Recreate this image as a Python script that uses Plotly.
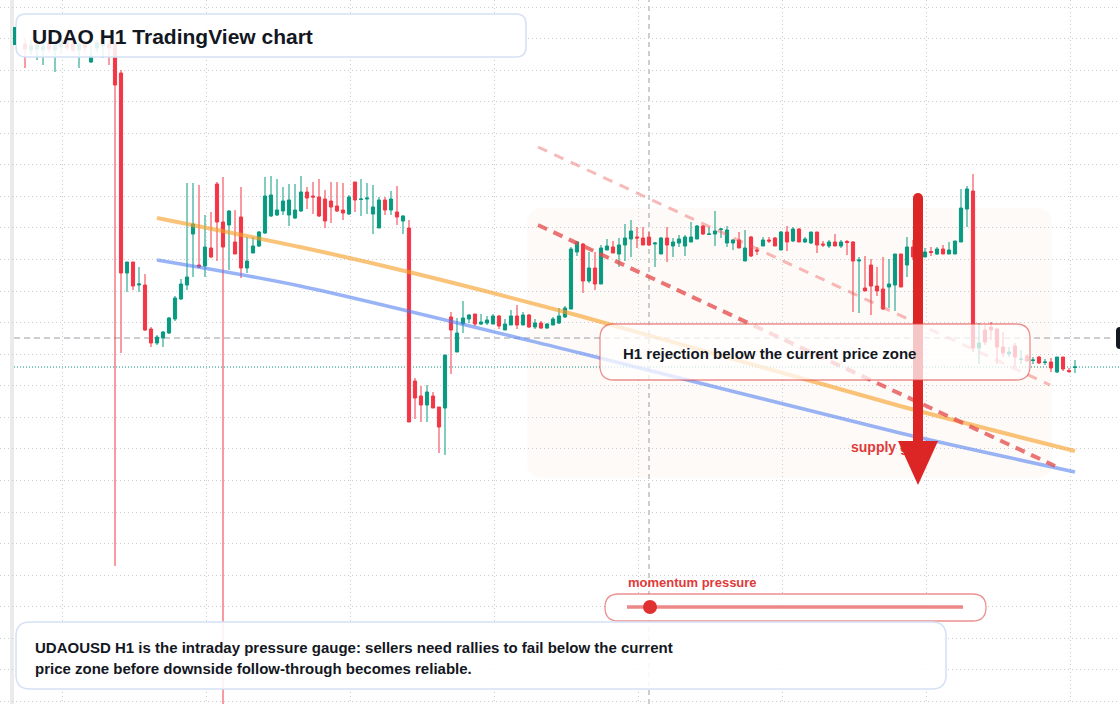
import plotly.graph_objects as go

W, H = 1120, 704

# ---------------- data (hourly candles, price units) ----------------
opens = [6.60, 6.54, 6.55, 6.54, 6.60, 6.54, 6.57, 6.62, 6.60, 6.54, 6.60, 6.42, 6.56, 6.58, 6.60,
         6.60, 6.31, 4.31, 4.42, 4.19, 4.19, 3.75, 3.61, 3.66, 3.71, 3.85, 4.05, 4.19, 4.70, 4.39,
         4.38, 4.56, 5.20, 4.82, 4.79, 4.62, 4.87, 4.36, 4.51, 4.58, 4.71, 4.88, 4.89, 4.93, 4.89,
         4.86, 4.93, 5.12, 5.08, 5.07, 5.05, 5.03, 4.98, 4.94, 4.90, 5.22, 5.045, 5.05, 4.90, 4.76,
         5.04, 4.94, 4.92, 4.83, 4.76, 3.23, 3.08, 2.99, 3.08, 2.97, 2.96, 3.87, 3.52, 3.80, 3.85,
         3.90, 3.80, 3.81, 3.80, 3.88, 3.74, 3.79, 3.88, 3.79, 3.89, 3.77, 3.81, 3.76, 3.79, 3.81,
         3.87, 3.95, 4.52, 4.60, 4.23, 4.36, 4.20, 4.54, 4.57, 4.50, 4.59, 4.65, 4.67, 4.66, 4.67,
         4.60, 4.50, 4.66, 4.58, 4.61, 4.58, 4.62, 4.65, 4.78, 4.695, 4.70, 4.745, 4.61, 4.61, 4.64,
         4.43, 4.67, 4.54, 4.58, 4.64, 4.66, 4.54, 4.72, 4.63, 4.75, 4.62, 4.61, 4.72, 4.60, 4.58,
         4.62, 4.58, 4.625, 4.62, 4.43, 4.16, 4.39, 4.18, 4.15, 4.17, 4.19, 4.50, 4.39, 4.57, 4.52,
         4.47, 4.525, 4.50, 4.55, 4.50, 4.50, 4.62, 4.95, 5.13, 3.56, 3.74, 3.77, 3.75, 3.57, 3.50,
         3.58, 3.445, 3.48, 3.435, 3.47, 3.415, 3.42, 3.32, 3.47, 3.335, 3.365]
highs = [6.66, 6.64, 6.63, 6.62, 6.65, 6.64, 6.66, 6.68, 6.66, 6.64, 6.64, 6.58, 6.64, 6.66, 6.64,
         6.64, 6.34, 4.42, 4.42, 4.37, 4.30, 3.77, 3.69, 3.73, 3.87, 4.08, 4.25, 5.21, 5.21, 5.19,
         4.89, 4.92, 5.22, 5.27, 4.94, 4.94, 5.17, 4.67, 4.67, 4.73, 5.27, 5.28, 5.25, 5.17, 5.20,
         5.20, 5.28, 5.17, 5.22, 5.25, 5.14, 5.22, 5.22, 5.21, 5.09, 5.22, 5.25, 5.21, 5.19, 5.07,
         5.07, 5.13, 5.18, 4.89, 4.84, 3.26, 3.18, 3.19, 3.12, 2.97, 3.49, 3.92, 3.86, 4.03, 3.90,
         3.90, 3.90, 3.88, 3.90, 3.89, 3.85, 3.94, 3.99, 3.92, 3.90, 3.85, 3.83, 3.81, 3.87, 3.96,
         3.98, 4.57, 4.63, 4.61, 4.52, 4.52, 4.59, 4.65, 4.63, 4.66, 4.80, 4.84, 4.77, 4.77, 4.72,
         4.62, 4.67, 4.77, 4.66, 4.69, 4.69, 4.82, 4.79, 4.79, 4.77, 4.93, 4.76, 4.78, 4.65, 4.72,
         4.74, 4.68, 4.57, 4.67, 4.67, 4.67, 4.73, 4.78, 4.77, 4.76, 4.67, 4.72, 4.72, 4.63, 4.64,
         4.70, 4.64, 4.64, 4.63, 4.47, 4.48, 4.45, 4.37, 4.47, 4.45, 4.50, 4.50, 4.67, 4.64, 4.58,
         4.56, 4.57, 4.57, 4.59, 4.62, 4.63, 5.15, 5.18, 5.30, 3.81, 3.79, 3.82, 3.75, 3.72, 3.57,
         3.61, 3.54, 3.50, 3.47, 3.48, 3.45, 3.46, 3.47, 3.47, 3.36, 3.44]
lows = [6.36, 6.49, 6.44, 6.39, 6.52, 6.32, 6.50, 6.54, 6.52, 6.36, 6.52, 6.41, 6.52, 6.46, 6.39,
        1.38, 3.51, 4.12, 4.14, 4.12, 3.73, 3.57, 3.59, 3.57, 3.70, 3.83, 4.04, 4.14, 4.27, 4.36,
        4.27, 4.46, 4.43, -0.06, 4.34, 4.50, 4.26, 4.31, 4.51, 4.57, 4.70, 4.87, 4.88, 4.89, 4.78,
        4.85, 4.92, 4.95, 4.90, 4.87, 4.76, 4.81, 4.92, 4.84, 4.89, 4.92, 4.88, 4.90, 4.70, 4.76,
        4.89, 4.89, 4.79, 4.70, 2.82, 2.85, 2.82, 2.82, 2.96, 2.51, 2.49, 3.30, 3.52, 3.71, 3.81,
        3.78, 3.79, 3.79, 3.80, 3.75, 3.74, 3.79, 3.75, 3.79, 3.76, 3.75, 3.75, 3.75, 3.79, 3.80,
        3.86, 3.95, 4.48, 4.11, 4.21, 4.14, 4.20, 4.54, 4.51, 4.37, 4.43, 4.47, 4.56, 4.59, 4.58,
        4.37, 4.50, 4.42, 4.47, 4.57, 4.48, 4.62, 4.65, 4.69, 4.69, 4.58, 4.66, 4.57, 4.54, 4.56,
        4.43, 4.47, 4.49, 4.58, 4.61, 4.58, 4.54, 4.53, 4.62, 4.62, 4.61, 4.60, 4.51, 4.57, 4.56,
        4.58, 4.56, 4.49, 3.92, 3.91, 4.13, 3.89, 4.08, 3.94, 3.96, 3.93, 4.17, 4.27, 4.44, 4.48,
        4.47, 4.48, 4.49, 4.50, 4.50, 4.50, 4.62, 4.77, 3.52, 3.40, 3.59, 3.64, 3.40, 3.47, 3.47,
        3.37, 3.40, 3.42, 3.40, 3.40, 3.39, 3.32, 3.31, 3.33, 3.31, 3.31]
closes = [6.55, 6.58, 6.59, 6.58, 6.55, 6.59, 6.63, 6.56, 6.54, 6.60, 6.56, 6.48, 6.61, 6.60, 6.56,
          6.19, 4.31, 4.42, 4.18, 4.20, 3.74, 3.61, 3.67, 3.72, 3.86, 4.06, 4.20, 4.27, 4.80, 4.37,
          4.57, 4.47, 4.82, 4.57, 4.93, 4.50, 4.36, 4.43, 4.58, 4.72, 5.08, 5.09, 4.94, 5.03, 5.04,
          4.94, 5.12, 5.06, 5.07, 4.88, 4.83, 4.97, 4.93, 4.91, 5.07, 5.04, 5.05, 5.06, 4.97, 5.04,
          4.94, 5.05, 4.87, 4.88, 2.82, 3.06, 2.99, 3.12, 2.96, 2.77, 3.49, 3.74, 3.71, 3.86, 3.89,
          3.80, 3.82, 3.84, 3.88, 3.78, 3.80, 3.88, 3.79, 3.89, 3.77, 3.81, 3.76, 3.80, 3.85, 3.88,
          3.96, 4.55, 4.62, 4.23, 4.36, 4.20, 4.56, 4.58, 4.51, 4.59, 4.66, 4.73, 4.66, 4.59, 4.59,
          4.61, 4.66, 4.59, 4.62, 4.65, 4.67, 4.67, 4.78, 4.70, 4.70, 4.73, 4.75, 4.74, 4.64, 4.56,
          4.56, 4.48, 4.53, 4.64, 4.63, 4.58, 4.72, 4.62, 4.75, 4.62, 4.65, 4.72, 4.59, 4.59, 4.62,
          4.58, 4.62, 4.615, 4.43, 4.44, 4.13, 4.18, 4.13, 3.95, 4.20, 4.50, 4.17, 4.57, 4.47, 4.55,
          4.52, 4.515, 4.55, 4.50, 4.54, 4.63, 4.96, 5.15, 3.56, 3.61, 3.62, 3.74, 3.57, 3.51, 3.52,
          3.47, 3.45, 3.43, 3.44, 3.41, 3.42, 3.36, 3.47, 3.35, 3.325, 3.37]
bars = list(range(len(opens)))

# drawn trend lines: (bar index, price)
orange_x = [22, 45.83, 64, 92.5, 145.83, 175]
orange_y = [4.86, 4.57, 4.32, 3.88, 2.98, 2.53]
blue_x = [22, 45.83, 92.5, 145.83, 175]
blue_y = [4.44, 4.18, 3.51, 2.71, 2.32]
upper_red_x = [85.5, 170.83]
upper_red_y = [5.57, 3.19]
lower_red_x = [85.5, 171.67]
lower_red_y = [4.79, 2.38]

current_price = 3.66
last_price = 3.37
crosshair_bar = 104

title_text = "UDAO H1 TradingView chart"
info_text = "H1 rejection below the current price zone"
momentum_label = "momentum pressure"
zone_label = "supply gate"
note_lines = ["UDAOUSD H1 is the intraday pressure gauge: sellers need rallies to fail below the current",
              "price zone before downside follow-through becomes reliable."]

GREEN = "#089981"
RED = "#F23645"
INK = "#131722"
ARROW = "#DC2626"
FONT = "Liberation Sans, Arial, sans-serif"

# ---------------- helpers (pixel -> paper) ----------------
def fx(x):
    return x / W

def fy(y):
    return 1 - y / H

def rrect(x0, y0, x1, y1, r):
    pts = [
        f"M {fx(x0 + r)},{fy(y0)}", f"L {fx(x1 - r)},{fy(y0)}",
        f"Q {fx(x1)},{fy(y0)} {fx(x1)},{fy(y0 + r)}", f"L {fx(x1)},{fy(y1 - r)}",
        f"Q {fx(x1)},{fy(y1)} {fx(x1 - r)},{fy(y1)}", f"L {fx(x0 + r)},{fy(y1)}",
        f"Q {fx(x0)},{fy(y1)} {fx(x0)},{fy(y1 - r)}", f"L {fx(x0)},{fy(y0 + r)}",
        f"Q {fx(x0)},{fy(y0)} {fx(x0 + r)},{fy(y0)}", "Z",
    ]
    return " ".join(pts)

fig = go.Figure()

fig.add_trace(go.Candlestick(
    x=bars, open=opens, high=highs, low=lows, close=closes,
    increasing=dict(line=dict(color=GREEN, width=1), fillcolor=GREEN),
    decreasing=dict(line=dict(color=RED, width=1), fillcolor=RED),
    hoverinfo="skip", showlegend=False,
))

fig.add_trace(go.Scatter(x=orange_x, y=orange_y, mode="lines",
                         line=dict(color="rgba(245,160,40,0.62)", width=4, shape="spline", smoothing=0.8),
                         hoverinfo="skip", showlegend=False))
fig.add_trace(go.Scatter(x=blue_x, y=blue_y, mode="lines",
                         line=dict(color="rgba(80,125,240,0.58)", width=3.5, shape="spline", smoothing=0.8),
                         hoverinfo="skip", showlegend=False))
fig.add_trace(go.Scatter(x=upper_red_x, y=upper_red_y, mode="lines",
                         line=dict(color="rgba(235,90,90,0.42)", width=3, dash="10px,8px"),
                         hoverinfo="skip", showlegend=False))
fig.add_trace(go.Scatter(x=lower_red_x, y=lower_red_y, mode="lines",
                         line=dict(color="rgba(228,78,78,0.78)", width=4, dash="10px,7px"),
                         hoverinfo="skip", showlegend=False))
fig.add_trace(go.Scatter(x=[(851 - 25) / 6], y=[(704 - 448) / 100], mode="text",
                         text=[f"<b>{zone_label}</b>"], textposition="middle right",
                         textfont=dict(family=FONT, size=14, color="#E03A3A"),
                         hoverinfo="skip", showlegend=False))

shapes = []
# left strip
shapes.append(dict(type="rect", xref="paper", yref="paper", x0=0, x1=fx(10), y0=0, y1=1,
                   fillcolor="white", line=dict(width=0), layer="below"))
shapes.append(dict(type="rect", xref="paper", yref="paper", x0=fx(10), x1=fx(14), y0=0, y1=1,
                   fillcolor="#EBEBEB", line=dict(width=0), layer="below"))
# faint zone
shapes.append(dict(type="path", xref="paper", yref="paper", path=rrect(527, 208, 1052, 478, 16),
                   fillcolor="rgba(240,200,170,0.09)", line=dict(width=0), layer="below"))
# crosshair + price lines
shapes.append(dict(type="line", xref="x", yref="paper", x0=crosshair_bar, x1=crosshair_bar, y0=0, y1=1,
                   line=dict(color="#9A9DA5", width=1, dash="5px,4px"), layer="below"))
shapes.append(dict(type="line", xref="paper", yref="y", x0=fx(14), x1=fx(1114), y0=current_price, y1=current_price,
                   line=dict(color="#9A9DA5", width=1, dash="6px,4px"), layer="below"))
shapes.append(dict(type="line", xref="paper", yref="y", x0=fx(14), x1=1, y0=last_price, y1=last_price,
                   line=dict(color=GREEN, width=1, dash="1px,2px"), layer="below"))
# big arrow
shapes.append(dict(type="line", xref="paper", yref="paper", x0=fx(918), x1=fx(918), y0=fy(198), y1=fy(443),
                   line=dict(color=ARROW, width=10), layer="above"))
shapes.append(dict(type="circle", xref="paper", yref="paper", x0=fx(913), x1=fx(923), y0=fy(193), y1=fy(203),
                   fillcolor=ARROW, line=dict(width=0), layer="above"))
shapes.append(dict(type="path", xref="paper", yref="paper",
                   path=f"M {fx(898)},{fy(441)} L {fx(938)},{fy(441)} L {fx(918)},{fy(485)} Z",
                   fillcolor=ARROW, line=dict(width=0), layer="above"))
# title box
shapes.append(dict(type="path", xref="paper", yref="paper", path=rrect(16, 14, 526, 57, 10),
                   fillcolor="rgba(255,255,255,0.88)", line=dict(color="#D5E1F5", width=1.5), layer="above"))
shapes.append(dict(type="rect", xref="paper", yref="paper", x0=fx(13), x1=fx(16), y0=fy(45), y1=fy(27),
                   fillcolor=GREEN, line=dict(width=0), layer="above"))
# info box
shapes.append(dict(type="path", xref="paper", yref="paper", path=rrect(600, 324, 1030, 380, 14),
                   fillcolor="rgba(255,255,255,0.74)", line=dict(color="rgba(225,70,70,0.6)", width=1.3),
                   layer="above"))
# momentum pill
shapes.append(dict(type="path", xref="paper", yref="paper", path=rrect(605, 594, 986, 621, 13.5),
                   fillcolor="rgba(255,255,255,0.96)", line=dict(color="rgba(225,70,70,0.6)", width=1.3),
                   layer="above"))
shapes.append(dict(type="line", xref="paper", yref="paper", x0=fx(627), x1=fx(963), y0=fy(607), y1=fy(607),
                   line=dict(color="rgba(230,90,90,0.72)", width=3.5), layer="above"))
shapes.append(dict(type="circle", xref="paper", yref="paper", x0=fx(643), x1=fx(657), y0=fy(614), y1=fy(600),
                   fillcolor="#E03131", line=dict(width=0), layer="above"))
# bottom note box
shapes.append(dict(type="path", xref="paper", yref="paper", path=rrect(16, 622, 946, 689, 14),
                   fillcolor="rgba(255,255,255,0.88)", line=dict(color="#D5E1F5", width=1.5), layer="above"))
# clipped price label at the right edge
shapes.append(dict(type="path", xref="paper", yref="paper", path=rrect(1116, 327, 1136, 349, 4),
                   fillcolor=INK, line=dict(width=0), layer="above"))

annotations = [
    dict(xref="paper", yref="paper", x=fx(30), y=fy(36), xanchor="left", yanchor="middle",
         text=f"<b>{title_text}</b>", showarrow=False, font=dict(family=FONT, size=21, color=INK)),
    dict(xref="paper", yref="paper", x=fx(621), y=fy(353), xanchor="left", yanchor="middle",
         text=f"<b>{info_text}</b>", showarrow=False, font=dict(family=FONT, size=15, color=INK)),
    dict(xref="paper", yref="paper", x=fx(626), y=fy(582), xanchor="left", yanchor="middle",
         text=f"<b>{momentum_label}</b>", showarrow=False, font=dict(family=FONT, size=13, color="#E03A3A")),
    dict(xref="paper", yref="paper", x=fx(33), y=fy(647), xanchor="left", yanchor="middle",
         text=f"<b>{note_lines[0]}</b>", showarrow=False, font=dict(family=FONT, size=15, color=INK)),
    dict(xref="paper", yref="paper", x=fx(33), y=fy(668), xanchor="left", yanchor="middle",
         text=f"<b>{note_lines[1]}</b>", showarrow=False, font=dict(family=FONT, size=15, color=INK)),
]

fig.update_layout(
    width=W, height=H, autosize=False,
    margin=dict(l=0, r=0, t=0, b=0),
    paper_bgcolor="white", plot_bgcolor="white",
    showlegend=False, hovermode=False, boxgap=0.25,
    shapes=shapes, annotations=annotations,
    xaxis=dict(range=[-25 / 6, (W - 25) / 6], showticklabels=False, zeroline=False, showline=False,
               rangeslider=dict(visible=False), showgrid=True, gridcolor="#C9CCD3", griddash="1px,3px",
               tick0=37 / 6, dtick=24, ticks="", fixedrange=True),
    yaxis=dict(range=[0, 7.04], showticklabels=False, zeroline=False, showline=False,
               showgrid=True, gridcolor="#C9CCD3", griddash="1px,3px",
               tick0=6.97, dtick=0.3157, ticks="", fixedrange=True),
)

fig.write_html("out.html", config={"displayModeBar": False, "staticPlot": True})
